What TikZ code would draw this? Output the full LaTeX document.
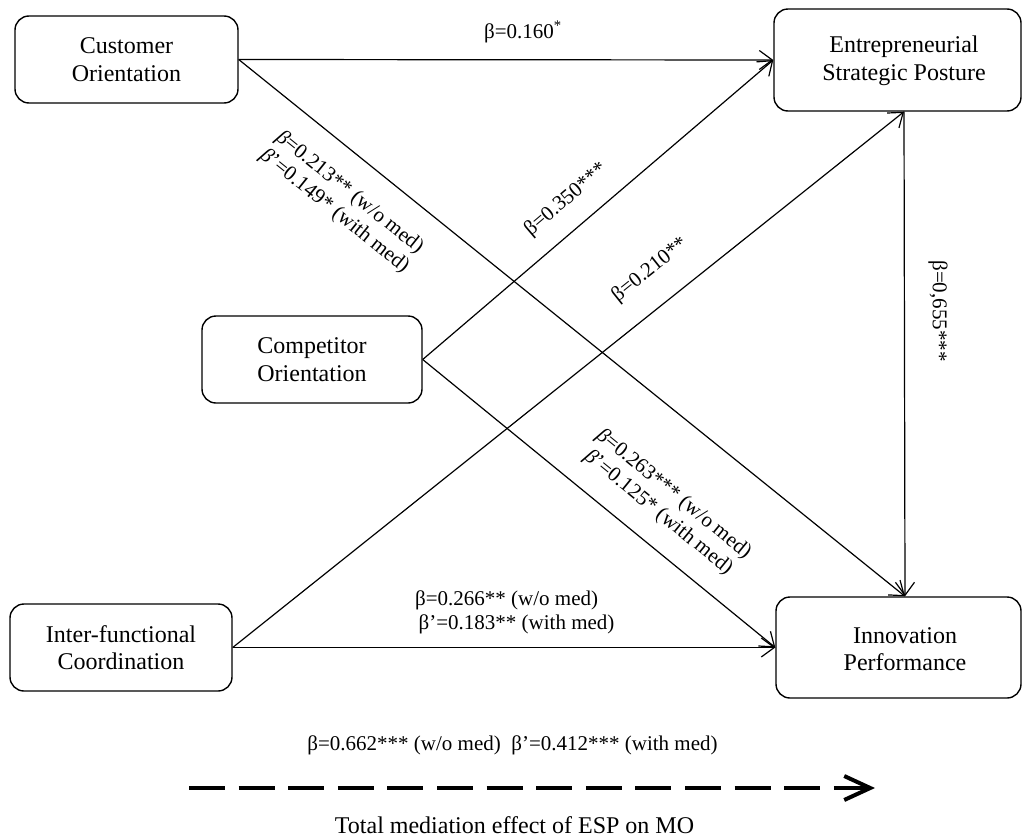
\documentclass[tikz,border=0pt]{standalone}
\usepackage{fontspec}
\setmainfont{Liberation Serif}
\usetikzlibrary{arrows.meta}
\begin{document}
\begin{tikzpicture}[x=1pt,y=-1pt,
  box/.style={draw, line width=1.4pt, rounded corners=14pt, inner sep=0pt, align=center, font=\fontsize{24}{27.6}\selectfont},
  boxtext/.style={inner sep=0pt, align=center, font=\fontsize{24}{27.6}\selectfont},
  conn/.style={line width=1.2pt, -{Straight Barb[length=13pt,width=19pt]}},
  lab/.style={inner sep=0pt, align=center, font=\fontsize{21}{24}\selectfont},
]
\useasboundingbox (0,0) rectangle (1023,838);
% boxes
\node[box, minimum width=223pt, minimum height=87pt] (C) at (126.5,59.5) {Customer\\Orientation};
\node[box, minimum width=220pt, minimum height=87pt] (M) at (312,359.5) {Competitor\\Orientation};
\node[box, minimum width=222pt, minimum height=87pt] (I) at (121,647.5) {Inter-functional\\Coordination};
\node[box, minimum width=247pt, minimum height=102pt] (E) at (897.5,60) {};
\node[boxtext] (Et) at (904,61) {Entrepreneurial\\Strategic Posture};
\node[box, minimum width=245pt, minimum height=101pt] (P) at (898.5,647.5) {};
\node[boxtext] (Pt) at (905,649) {Innovation\\Performance};
% connectors
\draw[conn] (C.east) -- (E.west);
\draw[conn] (C.east) -- (Pt |- P.north);
\draw[conn] (M.east) -- (E.west);
\draw[conn] (M.east) -- (P.west);
\draw[conn] (I.east) -- (Et |- E.south);
\draw[conn] (I.east) -- (P.west);
\draw[conn] (Et |- E.south) -- (Pt |- P.north);
% labels
\node[lab] (l1) at (523,32) {β=0.160\textsuperscript{*}};
\node[lab, rotate=40.4] (l2) at (566,200) {β=0.350***};
\node[lab, rotate=38.6] (l3) at (650,270) {β=0.210**};
\node[lab, rotate=-38.8] (l4) at (342,202) {\textit{β}=0.213** (w/o med)\\\textit{β}’=0.149* (with med)};
\node[lab, rotate=-39.2] (l5) at (666,503.5) {\textit{β}=0.263*** (w/o med)\\\textit{β}’=0.125* (with med)};
\node[lab, rotate=-90] (l6) at (938,311) {β=0,655***};
\node[lab, align=left, anchor=west] (l7) at (415,612) {β=0.266** (w/o med)\\\,β’=0.183** (with med)};
\node[lab] (l8) at (512.5,745) {β=0.662*** (w/o med)\ \ β’=0.412*** (with med)};
% total mediation arrow
\coordinate (ds) at (189,788);
\coordinate (de) at (875,788);
\draw[line width=4pt, dash pattern=on 36pt off 13.6pt, -{Straight Barb[length=26pt,width=24pt]}] (ds) -- (de);
\node[inner sep=0pt, font=\fontsize{24}{28}\selectfont] (cap) at (514.5,825) {Total mediation effect of ESP on MO};
\end{tikzpicture}
\end{document}
